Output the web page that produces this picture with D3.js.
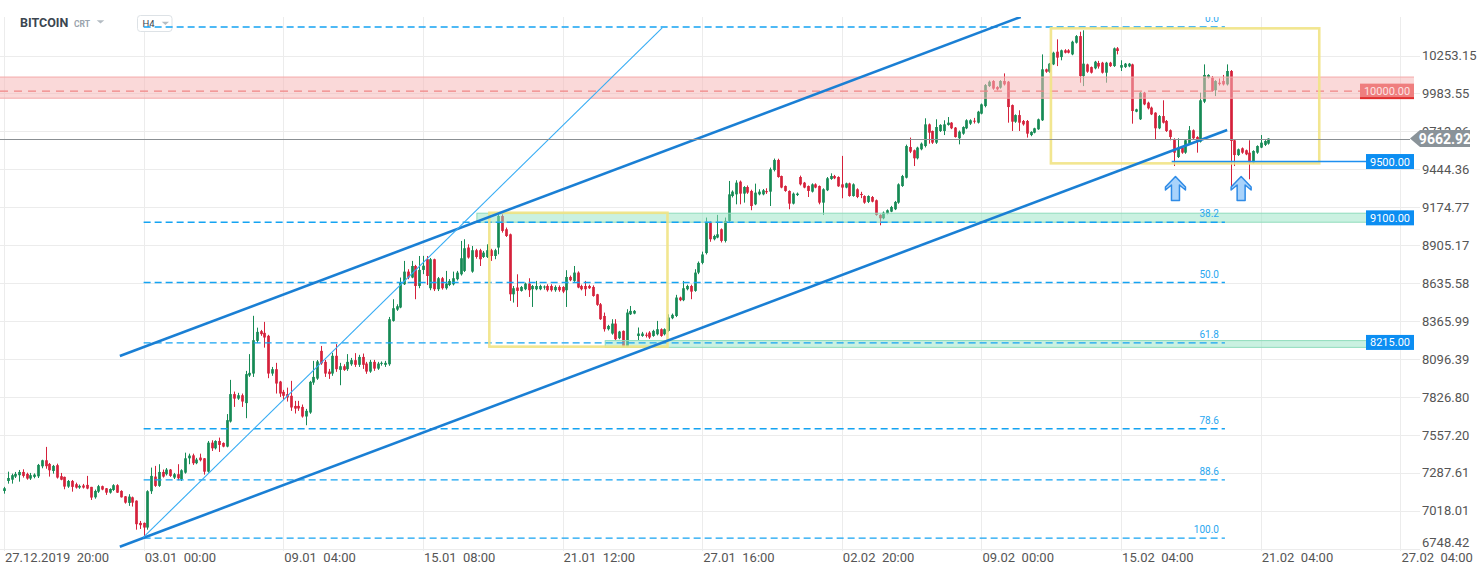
<!DOCTYPE html>
<html><head><meta charset="utf-8">
<script src="https://cdn.jsdelivr.net/npm/d3@7"></script>
<style>
html,body{margin:0;padding:0;background:#fff;}
svg{display:block;font-family:Roboto,"Open Sans",Arial,sans-serif;}
</style></head><body>
<svg id="chart" width="1482" height="574"></svg>
<script>
// ---------- data ----------
const priceTicks = [10253.15, 9983.55, 9713.96, 9444.36, 9174.77, 8905.17, 8635.58, 8365.99, 8096.39, 7826.80, 7557.20, 7287.61, 7018.01, 6748.42];
const timeTickIndex = [0, 37, 74, 111, 148, 185, 222, 259, 296, 333, 370];
const timeTickLabels = ["27.12.2019  20:00", "03.01  00:00", "09.01  04:00", "15.01  08:00", "21.01  12:00", "27.01  16:00", "02.02  20:00", "09.02  00:00", "15.02  04:00", "21.02  04:00", "27.02  04:00"];
// H4 candles: [open, high, low, close]
const candles = [
[7160,7189,7141,7179],[7231,7297,7212,7252],[7240,7283,7212,7272],[7262,7295,7252,7281],[7272,7309,7226,7295],
[7295,7314,7255,7267],[7281,7290,7240,7248],[7248,7288,7238,7272],[7260,7285,7250,7276],[7264,7352,7252,7345],
[7335,7382,7321,7378],[7378,7473,7318,7336],[7352,7359,7262,7307],[7302,7345,7283,7338],[7343,7354,7248,7255],
[7265,7288,7236,7240],[7260,7262,7172,7191],[7191,7238,7182,7231],[7231,7238,7155,7189],[7208,7219,7177,7184],
[7184,7205,7175,7196],[7199,7210,7177,7184],[7203,7267,7172,7177],[7189,7189,7096,7113],[7115,7170,7105,7160],
[7155,7203,7146,7194],[7194,7198,7165,7170],[7179,7181,7132,7148],[7148,7179,7141,7174],[7167,7208,7160,7201],
[7201,7208,7146,7148],[7160,7165,7113,7115],[7122,7124,7070,7077],[7075,7137,7054,7120],[7115,7120,7049,7077],
[7091,7093,6885,6924],[6933,6947,6890,6917],[6933,6936,6825,6900],[6900,7165,6885,7158],[7158,7326,7139,7267],
[7262,7338,7189,7196],[7196,7350,7189,7295],[7295,7312,7255,7262],[7279,7323,7270,7312],[7312,7316,7260,7267],
[7255,7288,7245,7279],[7279,7350,7236,7250],[7243,7314,7231,7307],[7290,7432,7283,7392],[7392,7425,7350,7411],
[7413,7425,7345,7357],[7357,7395,7350,7383],[7397,7425,7370,7378],[7392,7394,7276,7297],[7297,7515,7290,7503],
[7503,7520,7444,7463],[7463,7520,7455,7515],[7515,7539,7437,7487],[7501,7505,7470,7475],
[7475,7706,7470,7663],[7653,7949,7646,7848],[7848,7866,7757,7816],[7816,7857,7807,7840],[7840,7852,7757,7795],
[7784,8013,7677,7990],[7980,8132,7970,7999],[7994,8404,7970,8231],[8226,8320,8212,8290],[8295,8304,8262,8274],
[8283,8361,8178,8250],[8262,8269,7961,7994],[7994,8041,7978,8025],[8025,8070,7852,7923],[7937,7942,7828,7852],
[7864,7878,7805,7836],[7848,7894,7795,7824],[7836,7942,7729,7753],[7764,7800,7710,7745],[7764,7800,7729,7746],
[7757,7774,7681,7689],[7689,7743,7627,7729],[7717,7942,7708,7935],[7930,8084,7914,7970],[7958,8090,7949,8080],
[8155,8190,8056,8066],[8077,8091,7970,7994],[8008,8027,7956,7990],[7994,8141,7978,8120],[8120,8203,8006,8025],
[8020,8070,7911,8046],[8046,8060,8013,8020],[8025,8132,8013,8077],[8060,8105,8049,8089],[8089,8139,8041,8056],
[8056,8127,8041,8112],[8112,8136,8027,8056],[8065,8077,7992,8008],[8008,8091,7999,8077],[8077,8091,8013,8029],
[8029,8077,8020,8065],[8065,8080,8050,8070],[8056,8084,8041,8070],[8060,8396,8049,8380],
[8368,8522,8363,8458],[8448,8486,8439,8472],[8463,8676,8458,8640],[8628,8794,8623,8718],[8718,8735,8664,8676],
[8676,8794,8671,8758],[8758,8766,8522,8616],[8616,8829,8600,8730],[8730,8830,8700,8760],[8806,8829,8623,8687],
[8600,8815,8586,8806],[8806,8810,8580,8593],[8593,8680,8580,8671],[8671,8680,8590,8600],[8600,8723,8590,8633],
[8623,8665,8615,8652],[8628,8718,8620,8671],[8664,8723,8655,8711],[8699,8936,8690,8813],[8723,8948,8715,8884],
[8889,8912,8810,8818],[8718,8900,8710,8870],[8870,8880,8810,8822],[8870,8880,8758,8806],[8822,8865,8815,8853],
[8822,8912,8815,8870],[8870,8880,8794,8829],[8829,8880,8806,8870],[8889,9125,8841,9113],[9113,9125,8995,9007],
[9019,9031,8964,8971],[8983,8988,8510,8557],[8557,8616,8498,8600],[8605,8699,8467,8581],[8581,8616,8576,8609],
[8593,8640,8586,8633],[8633,8671,8538,8586],[8593,8623,8467,8616],[8593,8652,8586,8616],[8593,8625,8586,8616],
[8605,8620,8590,8612],[8616,8628,8576,8586],[8616,8628,8576,8586],[8586,8620,8575,8609],[8609,8620,8575,8586],
[8609,8615,8565,8576],[8586,8728,8467,8680],[8680,8690,8650,8657],[8652,8758,8645,8711],[8711,8720,8600,8605],
[8616,8625,8585,8593],[8616,8652,8545,8593],[8616,8625,8595,8600],[8609,8620,8540,8545],[8557,8560,8475,8482],
[8486,8495,8375,8380],[8403,8427,8292,8309],[8309,8340,8300,8332],[8278,8380,8270,8349],[8349,8380,8230,8238],
[8245,8297,8238,8292],[8297,8300,8180,8183],[8183,8451,8180,8427],[8415,8474,8410,8439],[8420,8445,8415,8439],
[8261,8321,8231,8278],[8261,8290,8255,8278],[8270,8285,8250,8262],[8285,8295,8240,8250],[8261,8305,8255,8297],
[8273,8368,8265,8309],[8309,8315,8255,8261],[8273,8315,8265,8309],[8297,8415,8290,8392],[8387,8420,8380,8411],
[8403,8553,8395,8534],[8534,8540,8508,8515],[8515,8652,8508,8600],[8593,8625,8585,8616],[8616,8625,8522,8576],
[8581,8735,8575,8711],
[8711,8790,8700,8780],[8780,8860,8770,8840],[8850,9102,8840,9066],[9066,9075,8930,8948],[8948,8980,8940,8971],
[8960,9121,8955,8983],[9019,9025,8925,8936],[8936,9102,8925,9078],[9078,9362,9070,9267],[9255,9295,9245,9286],
[9267,9367,9196,9350],[9357,9365,9196,9272],[9272,9325,9208,9319],[9319,9330,9270,9279],[9291,9300,9154,9184],
[9196,9343,9190,9279],[9267,9303,9260,9286],[9267,9305,9260,9296],[9290,9310,9270,9282],[9286,9457,9184,9445],
[9440,9521,9430,9511],[9511,9520,9385,9390],[9397,9400,9310,9315],[9326,9330,9285,9291],[9291,9295,9161,9201],
[9201,9280,9195,9272],[9262,9280,9255,9272],[9390,9400,9330,9338],[9350,9355,9310,9315],[9326,9330,9248,9291],
[9286,9345,9280,9338],[9338,9345,9310,9315],[9326,9330,9196,9208],[9208,9310,9121,9303],[9296,9390,9290,9381],
[9376,9416,9370,9397],[9397,9405,9375,9381],[9390,9395,9320,9324],[9338,9540,9239,9315],[9315,9350,9310,9345],
[9345,9350,9250,9255],[9255,9345,9250,9338],[9303,9310,9240,9248],[9270,9285,9240,9262],[9255,9260,9200,9208],
[9213,9260,9205,9255],[9248,9255,9210,9215],[9225,9230,9115,9121],[9121,9125,9047,9097],[9097,9145,9090,9137],
[9130,9160,9125,9154],[9144,9185,9140,9177],[9161,9220,9155,9213],[9208,9345,9200,9338],[9326,9405,9320,9397],
[9385,9620,9380,9610],
[9603,9670,9560,9570],[9580,9585,9468,9523],[9523,9605,9515,9599],[9587,9635,9580,9627],[9610,9807,9600,9764],
[9764,9770,9627,9705],[9717,9720,9625,9634],[9634,9800,9625,9745],[9717,9765,9710,9760],[9717,9793,9688,9764],
[9760,9816,9755,9776],[9776,9780,9730,9736],[9741,9745,9670,9674],[9665,9720,9622,9712],[9698,9750,9690,9745],
[9736,9800,9730,9793],[9769,9800,9760,9793],[9790,9810,9770,9785],[9776,9860,9770,9854],[9840,9912,9835,9906],
[9894,10050,9885,10043],[10036,10075,10030,10067],[10072,10078,10010,10018],[10029,10035,10005,10013],[10025,10078,10018,10072],
[10072,10126,10040,10048],[10067,10072,9776,9887],[9901,9905,9717,9783],[9783,9835,9775,9830],[9830,9864,9717,9776],
[9788,9795,9755,9764],[9788,9795,9670,9698],[9688,9715,9680,9710],[9705,9740,9700,9736],[9729,9805,9725,9800],
[9793,10261,9788,10155],[10155,10160,10130,10138],[10138,10200,10130,10195],[10190,10280,10185,10273],[10280,10368,10178,10238],
[10242,10295,10219,10290],[10290,10298,10268,10273],[10290,10298,10268,10273],[10261,10358,10255,10351],[10344,10398,10338,10391],
[10391,10422,10060,10107],[10107,10432,10036,10195],[10190,10195,10130,10138],[10171,10175,10125,10131],[10162,10215,10155,10209],
[10200,10215,10160,10175],[10202,10208,10125,10131],[10131,10208,10060,10202],[10202,10208,10172,10178],[10178,10310,10172,10304],
[10304,10313,10261,10285],[10167,10219,10143,10185],[10171,10200,10165,10195],[10176,10200,10170,10195],[10190,10195,9769,9859],
[9854,9875,9850,9871],[9800,9995,9795,9989],[9989,9995,9900,9906],[9918,9925,9870,9878],[9883,9890,9830,9835],
[9847,9850,9658,9736],[9736,9830,9730,9823],[9823,9935,9770,9776],[9788,9795,9710,9717],[9722,9728,9651,9674],
[9658,9665,9468,9563],[9532,9665,9525,9599],[9599,9605,9555,9563],[9563,9658,9555,9651],[9627,9752,9620,9722],
[9722,9728,9655,9665],[9674,9680,9563,9641],[9641,9989,9635,9935],[9925,10190,9915,10115],[10096,10120,10090,10115],
[10096,10107,9995,10001],[10006,10078,9965,10072],[10060,10090,10040,10050],[10072,10115,10040,10048],[10048,10190,10040,10143],
[10143,10150,9319,9646],[9651,9655,9468,9546],[9546,9592,9540,9587],[9594,9600,9555,9563],[9580,9585,9545,9551],
[9563,9651,9374,9492],[9492,9580,9485,9575],[9563,9615,9555,9610],[9599,9688,9595,9634],[9618,9652,9610,9646],
[9627,9665,9620,9663]
];
const fibHigh = 10456, fibLow = 6825;
const fibRatios = [0, 38.2, 50, 61.8, 78.6, 88.6, 100];
const fibLabels = ["0.0", "38.2", "50.0", "61.8", "78.6", "88.6", "100.0"];
const fibSpan = [37, 323.5];
const channelLower = [[30.7, 6764], [324.1, 9724]];
const channelUpper = [[30.7, 8118], [269.4, 10527]];
const fanLine = [[36.9, 6830], [174.4, 10449]];
const boxes = [{i0: 128.6, i1: 175.8, lo: 8185, hi: 9136}, {i0: 277.4, i1: 348.5, lo: 9487, hi: 10446}];
const resistanceZone = {level: 10000, lo: 9950, hi: 10100, label: "10000.00"};
const supportBands = [{level: 9100, lo: 9069, hi: 9133, from: 125.3, label: "9100.00"}, {level: 8215, lo: 8180, hi: 8228, from: 159.3, label: "8215.00"}];
const supportLine = {level: 9500, from: 309.4, label: "9500.00"};
const arrowMarks = [[310.4, 9394], [327.8, 9394]];
const lastPrice = 9662.92;

// ---------- scales ----------
const svg = d3.select("#chart");
const plotRight = 1414, plotTop = 17, plotBottom = 549;
const x = d3.scaleLinear().domain([0, 370]).range([4, 1400.4]);
const y = d3.scaleLinear().domain([6748.42, 10253.15]).range([548.9, 55.5]);
const ly = y(lastPrice);

const defs = svg.append("defs");
defs.append("clipPath").attr("id", "plot")
  .append("rect").attr("x", 0).attr("y", plotTop).attr("width", plotRight).attr("height", plotBottom - plotTop);
defs.append("clipPath").attr("id", "aboveTag")
  .append("rect").attr("x", 1400).attr("y", 0).attr("width", 82).attr("height", ly - 8.5);

// grid
const grid = svg.append("g");
grid.selectAll(".hg").data(priceTicks).join("line")
  .attr("x1", 0).attr("x2", 1420).attr("y1", d => Math.round(y(d)) + 0.5).attr("y2", d => Math.round(y(d)) + 0.5)
  .attr("stroke", "#ececec").attr("stroke-width", 1);
grid.selectAll(".vg").data(timeTickIndex).join("line")
  .attr("x1", d => Math.round(x(d)) + 0.5).attr("x2", d => Math.round(x(d)) + 0.5)
  .attr("y1", plotTop).attr("y2", 551)
  .attr("stroke", "#ececec").attr("stroke-width", 1);

// axis labels (the one under the last-price tag is cut off by it, as in the source)
svg.append("g").selectAll("text").data(priceTicks).join("text")
  .attr("x", 1422).attr("y", d => Math.min(y(d), 542) + 4.5)
  .attr("clip-path", d => Math.abs(y(d) - ly) < 12 ? "url(#aboveTag)" : null)
  .attr("font-size", 13).attr("fill", "#555").text(d => d.toFixed(2));
svg.append("g").selectAll("text").data(timeTickIndex).join("text")
  .attr("x", d => x(d) + 1).attr("y", 562).style("white-space", "pre")
  .attr("font-size", 13).attr("fill", "#555").text((d, i) => timeTickLabels[i]);

// header
svg.append("text").attr("x", 20).attr("y", 27.3).attr("font-size", 12.5).attr("font-weight", "bold").attr("fill", "#3b4650").text("BITCOIN");
svg.append("text").attr("x", 74).attr("y", 26.7).attr("font-size", 8.5).attr("font-weight", "bold").attr("fill", "#9aa4ad").text("CRT");
svg.append("path").attr("d", "M96.7,20.2 L104.3,20.2 L100.5,23.6 Z").attr("fill", "#b4bcc3");
svg.append("rect").attr("x", 137.5).attr("y", 15.5).attr("width", 34.5).attr("height", 16).attr("rx", 3)
  .attr("fill", "#fff").attr("stroke", "#dde2e6");
svg.append("text").attr("x", 142.5).attr("y", 26.7).attr("font-size", 9.5).attr("fill", "#34424f").text("H4");
svg.append("path").attr("d", "M161.7,21.8 L169,21.8 L165.35,25 Z").attr("fill", "#b4bcc3");

// candles
const cg = svg.append("g").attr("clip-path", "url(#plot)");
const up = "#168a55", down = "#d5213b";
const cndl = cg.selectAll("g.c").data(candles).join("g");
cndl.append("line")
  .attr("x1", (d, i) => Math.round(x(i)) + 0.5).attr("x2", (d, i) => Math.round(x(i)) + 0.5)
  .attr("y1", d => y(d[1])).attr("y2", d => y(d[2]))
  .attr("stroke", d => d[3] >= d[0] ? up : down).attr("stroke-width", 1);
cndl.append("rect")
  .attr("x", (d, i) => Math.round(x(i)) + 0.5 - 1.35).attr("width", 2.7)
  .attr("y", d => y(Math.max(d[0], d[3])))
  .attr("height", d => Math.max(1, Math.abs(y(d[0]) - y(d[3]))))
  .attr("fill", d => d[3] >= d[0] ? up : down);

// overlays
const ov = svg.append("g").attr("clip-path", "url(#plot)");
ov.append("rect").attr("x", 0).attr("width", plotRight)
  .attr("y", y(resistanceZone.hi)).attr("height", y(resistanceZone.lo) - y(resistanceZone.hi))
  .attr("fill", "rgba(245,185,185,0.55)");
[resistanceZone.hi, resistanceZone.lo].forEach(v => ov.append("line")
  .attr("x1", 0).attr("x2", plotRight).attr("y1", y(v)).attr("y2", y(v))
  .attr("stroke", "#f4a8a8").attr("stroke-width", 1));
ov.append("line").attr("x1", 0).attr("x2", 1360).attr("y1", y(resistanceZone.level)).attr("y2", y(resistanceZone.level))
  .attr("stroke", "#ef8585").attr("stroke-width", 1.2).attr("stroke-dasharray", "8,6");

supportBands.forEach(b => {
  ov.append("rect").attr("x", x(b.from)).attr("width", plotRight - x(b.from))
    .attr("y", y(b.hi)).attr("height", y(b.lo) - y(b.hi))
    .attr("fill", "rgba(150,228,196,0.5)").attr("stroke", "#8fdcbc").attr("stroke-width", 1);
});

const fibLevels = fibRatios.map(r => fibHigh - (fibHigh - fibLow) * r / 100);
ov.selectAll(".fib").data(fibLevels).join("line")
  .attr("x1", x(fibSpan[0])).attr("x2", x(fibSpan[1]))
  .attr("y1", d => y(d)).attr("y2", d => y(d))
  .attr("stroke", "#14a3f2").attr("stroke-width", 1.4).attr("stroke-dasharray", "7,4");
ov.selectAll(".fibt").data(fibLevels).join("text")
  .attr("x", x(fibSpan[1]) - 6).attr("y", d => y(d) - 5).attr("text-anchor", "end")
  .attr("font-size", 10).attr("fill", "#2aa7f0").text((d, i) => fibLabels[i]);

ov.selectAll(".box").data(boxes).join("rect")
  .attr("x", d => x(d.i0)).attr("width", d => x(d.i1) - x(d.i0))
  .attr("y", d => y(d.hi)).attr("height", d => y(d.lo) - y(d.hi))
  .attr("fill", "none").attr("stroke", "#f1e384").attr("stroke-opacity", 0.9).attr("stroke-width", 2.6);

const ln = d3.line().x(d => x(d[0])).y(d => y(d[1]));
ov.append("path").attr("d", ln(channelLower)).attr("fill", "none").attr("stroke", "#1a7fd4").attr("stroke-width", 2.6);
ov.append("path").attr("d", ln(channelUpper)).attr("fill", "none").attr("stroke", "#1a7fd4").attr("stroke-width", 2.6);
ov.append("path").attr("d", ln(fanLine)).attr("fill", "none").attr("stroke", "#36acf4").attr("stroke-width", 1.1);

svg.append("line").attr("x1", x(supportLine.from)).attr("x2", 1366)
  .attr("y1", y(supportLine.level)).attr("y2", y(supportLine.level))
  .attr("stroke", "#1e8ff0").attr("stroke-width", 1.5);

svg.append("line").attr("x1", 0).attr("x2", 1410).attr("y1", Math.round(ly) + 0.5).attr("y2", Math.round(ly) + 0.5)
  .attr("stroke", "#8a8f93").attr("stroke-width", 1);

arrowMarks.forEach(a => {
  const cx = x(a[0]), ty = y(a[1]);
  const pts = [[0,0],[10,10.5],[10,13.5],[4,8.5],[4,24],[-4,24],[-4,8.5],[-10,13.5],[-10,10.5]];
  svg.append("path").attr("d", "M" + pts.map(p => (cx + p[0]) + "," + (ty + p[1])).join("L") + "Z")
    .attr("fill", "#a9d3fb").attr("stroke", "#2f8be6").attr("stroke-width", 1.5).attr("stroke-linejoin", "round");
});

function tag(level, label, fill, txtFill, x0) {
  const cy = y(level);
  svg.append("rect").attr("x", x0).attr("y", cy - 7.5).attr("width", 1414 - x0).attr("height", 15).attr("fill", fill);
  svg.append("text").attr("x", (x0 + 1414) / 2).attr("y", cy + 4).attr("text-anchor", "middle")
    .attr("font-size", 11).attr("fill", txtFill).text(label);
}
tag(resistanceZone.level, resistanceZone.label, "#ef7e7e", "#fde3e3", 1360);
svg.append("rect").attr("x", 1360).attr("y", y(resistanceZone.level) + 6).attr("width", 54).attr("height", 2).attr("fill", "#e12f2f");
tag(supportLine.level, supportLine.label, "#0c8ef2", "#fff", 1366);
supportBands.forEach(b => tag(b.level, b.label, "#0c8ef2", "#fff", 1366));

svg.append("path").attr("d", `M1410,${ly} L1420,${ly - 8.5} L1470,${ly - 8.5} L1470,${ly + 8.5} L1420,${ly + 8.5} Z`).attr("fill", "#8a9399");
svg.append("text").attr("x", 1445).attr("y", ly + 5).attr("text-anchor", "middle")
  .attr("font-size", 14).attr("font-weight", "bold").attr("fill", "#fff").text(lastPrice.toFixed(2));
</script>
</body></html>
